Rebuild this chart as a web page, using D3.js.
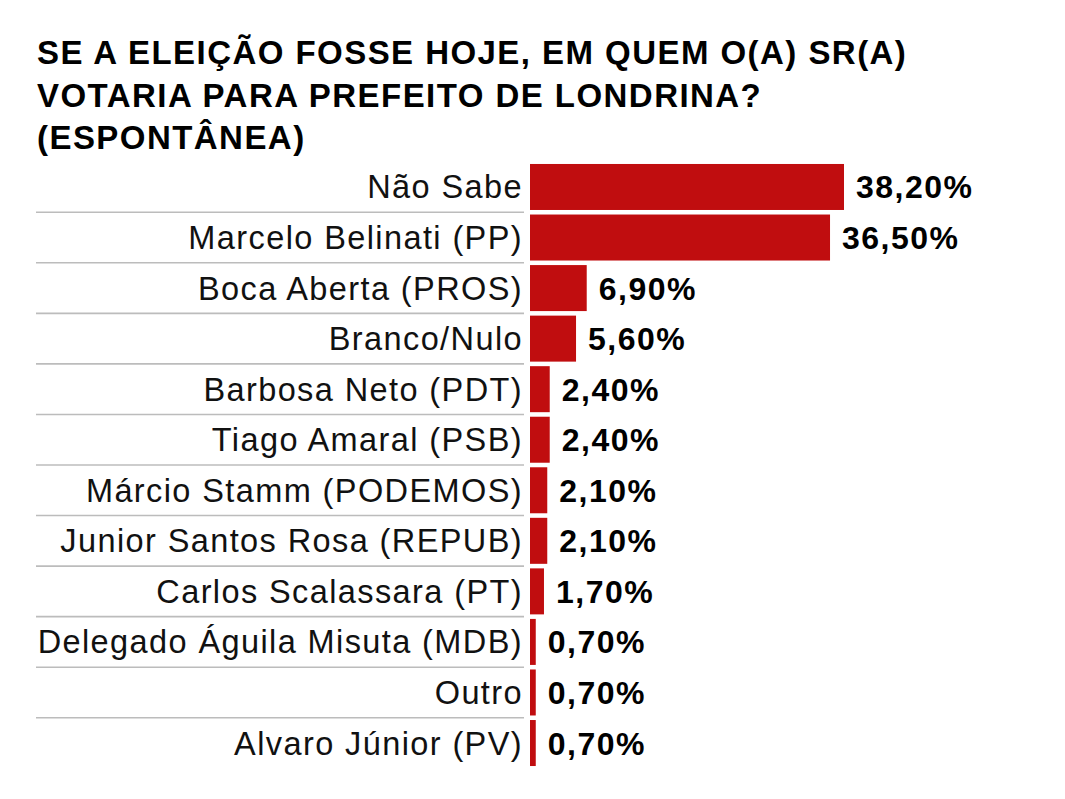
<!DOCTYPE html>
<html>
<head>
<meta charset="utf-8">
<script src="https://cdn.jsdelivr.net/npm/d3@7"></script>
<style>
  html, body { margin: 0; padding: 0; background: #fff; }
  svg { display: block; }
</style>
</head>
<body>
<svg id="chart" width="1065" height="799"></svg>
<script>
const titleLines = [
  "SE A ELEIÇÃO FOSSE HOJE, EM QUEM O(A) SR(A)",
  "VOTARIA PARA PREFEITO DE LONDRINA?",
  "(ESPONTÂNEA)"
];
const categories = [
  "Não Sabe",
  "Marcelo Belinati (PP)",
  "Boca Aberta (PROS)",
  "Branco/Nulo",
  "Barbosa Neto (PDT)",
  "Tiago Amaral (PSB)",
  "Márcio Stamm (PODEMOS)",
  "Junior Santos Rosa (REPUB)",
  "Carlos Scalassara (PT)",
  "Delegado Águila Misuta (MDB)",
  "Outro",
  "Alvaro Júnior (PV)"
];
const values = [38.2, 36.5, 6.9, 5.6, 2.4, 2.4, 2.1, 2.1, 1.7, 0.7, 0.7, 0.7];
const valueLabels = ["38,20%", "36,50%", "6,90%", "5,60%", "2,40%", "2,40%", "2,10%", "2,10%", "1,70%", "0,70%", "0,70%", "0,70%"];

const data = categories.map((c, i) => ({ cat: c, value: values[i], label: valueLabels[i] }));

const svg = d3.select("#chart");
const FONT = "'Liberation Sans', Arial, Helvetica, sans-serif";

// Title
svg.append("g")
  .selectAll("text")
  .data(titleLines)
  .join("text")
  .attr("x", 37)
  .attr("y", (d, i) => 64 + i * 42.5)
  .attr("font-family", FONT)
  .attr("font-weight", "bold")
  .attr("font-size", 33)
  .attr("letter-spacing", 1.45)
  .attr("fill", "#000")
  .text(d => d);

const x = d3.scaleLinear().domain([0, 38.2]).range([530, 844]);
const y = d3.scaleBand().domain(categories).range([161.7, 768.3]).paddingInner(0.09).paddingOuter(0.045);

// Separators between rows
svg.append("g")
  .selectAll("line")
  .data(categories.slice(1))
  .join("line")
  .attr("x1", 36)
  .attr("x2", 524)
  .attr("y1", d => y(d) - (y.step() - y.bandwidth()) / 2)
  .attr("y2", d => y(d) - (y.step() - y.bandwidth()) / 2)
  .attr("stroke", "#bcbcbc")
  .attr("stroke-width", 1.6);

// Bars
svg.append("g")
  .selectAll("rect")
  .data(data)
  .join("rect")
  .attr("x", x(0))
  .attr("y", d => y(d.cat))
  .attr("width", d => x(d.value) - x(0))
  .attr("height", y.bandwidth())
  .attr("fill", "#c00d0f");

// Category labels
svg.append("g")
  .selectAll("text")
  .data(data)
  .join("text")
  .attr("x", 523)
  .attr("y", d => y(d.cat) + y.bandwidth() / 2 + 11.5)
  .attr("text-anchor", "end")
  .attr("font-family", FONT)
  .attr("font-size", 32.5)
  .attr("letter-spacing", 1.4)
  .attr("fill", "#111")
  .text(d => d.cat);

// Value labels
svg.append("g")
  .selectAll("text")
  .data(data)
  .join("text")
  .attr("x", d => x(d.value) + 12)
  .attr("y", d => y(d.cat) + y.bandwidth() / 2 + 11.5)
  .attr("font-family", FONT)
  .attr("font-weight", "bold")
  .attr("font-size", 32)
  .attr("letter-spacing", 1.5)
  .attr("fill", "#000")
  .text(d => d.label);
</script>
</body>
</html>
